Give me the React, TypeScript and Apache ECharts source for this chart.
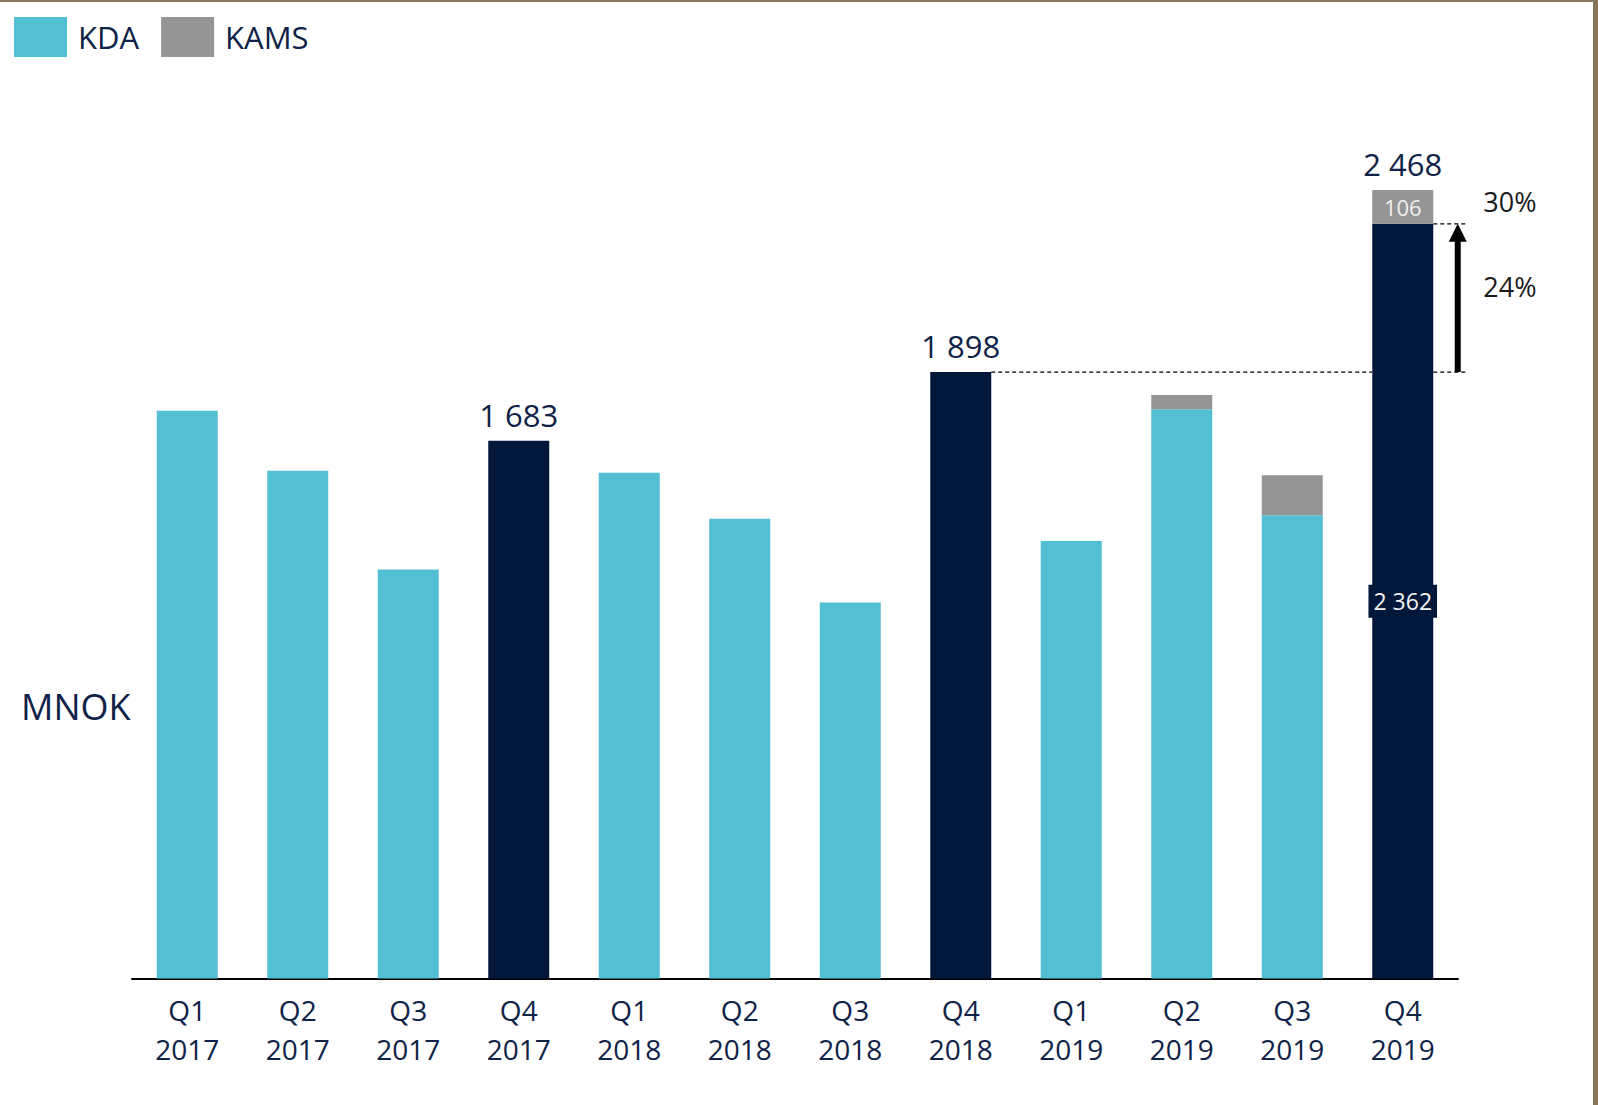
import React, { useEffect, useRef } from "react";
import * as echarts from "echarts";

const quarters = ["Q1", "Q2", "Q3", "Q4", "Q1", "Q2", "Q3", "Q4", "Q1", "Q2", "Q3", "Q4"];
const years = ["2017", "2017", "2017", "2017", "2018", "2018", "2018", "2018", "2019", "2019", "2019", "2019"];
const kdaValues = [1777, 1589, 1280, 1683, 1583, 1439, 1177, 1898, 1369, 1782, 1450, 2362];
const kamsValues: (number | null)[] = [null, null, null, null, null, null, null, null, null, 44, 125, 106];
const highlightIdx = [3, 7, 11];
const legendNames = ["KDA", "KAMS"];
const unitLabel = "MNOK";

const NAVY = "#0F2248";
const TEAL = "#52BFD2";
const DARK = "#02173A";
const GRAY = "#959595";
const FONT = "'Open Sans', 'Noto Sans', sans-serif";
const BAR_W = 61;

const fmt = (v: number) => {
  const s = Math.round(v).toString();
  return s.replace(/\B(?=(\d{3})+(?!\d))/g, " ");
};

export default function App() {
  const ref = useRef<HTMLDivElement>(null);
  useEffect(() => {
    if (!ref.current) return;
    const chart = echarts.init(ref.current, null, { renderer: "svg" });
    const categories = quarters.map((q, i) => `${q} ${years[i]}`);
    const totals = kdaValues.map((v, i) => v + (kamsValues[i] ?? 0));
    const last = kdaValues.length - 1;

    const kdaData = kdaValues.map((v, i) => {
      const hl = highlightIdx.includes(i);
      const item: any = { value: v, itemStyle: { color: hl ? DARK : TEAL } };
      if (i === last && kamsValues[i]) {
        item.label = {
          show: true,
          position: "inside",
          formatter: () => fmt(v),
          backgroundColor: DARK,
          padding: [5, 5],
          color: "#f2f2f2",
          fontSize: 23,
          fontFamily: FONT,
        };
      }
      return item;
    });
    const kamsData = kamsValues.map((v, i) => {
      const item: any = { value: v };
      if (i === last && v) {
        item.label = {
          show: true,
          position: "inside",
          formatter: () => fmt(v),
          color: "#f0f0f0",
          fontSize: 22,
          fontFamily: FONT,
        };
      }
      return item;
    });
    const totalData = highlightIdx.map((i) => [i, totals[i]]);

    chart.setOption({
      animation: false,
      backgroundColor: "#ffffff",
      legend: {
        data: legendNames,
        left: 14,
        top: 17,
        padding: 0,
        icon: "rect",
        itemWidth: 53,
        itemHeight: 40,
        itemGap: 22,
        textStyle: { color: NAVY, fontSize: 31, fontFamily: FONT, padding: [0, 0, 0, 6] },
      },
      grid: { left: 132, top: 20, width: 1326, height: 958.5 },
      xAxis: {
        type: "category",
        data: categories,
        axisLine: { lineStyle: { color: "#000", width: 2 } },
        axisTick: { show: false },
        axisLabel: {
          formatter: (v: string) => v.replace(" ", "\n"),
          color: NAVY,
          fontSize: 28,
          lineHeight: 39,
          margin: 12,
          fontFamily: FONT,
        },
      },
      yAxis: {
        type: "value",
        min: 0,
        max: 3000,
        show: false,
        splitLine: { show: false },
      },
      series: [
        {
          name: "KDA",
          type: "bar",
          stack: "total",
          barWidth: BAR_W,
          itemStyle: { color: TEAL },
          data: kdaData,
        },
        {
          name: "KAMS",
          type: "bar",
          stack: "total",
          barWidth: BAR_W,
          itemStyle: { color: GRAY },
          data: kamsData,
        },
        {
          name: "Total",
          type: "scatter",
          symbol: "circle",
          symbolSize: 1,
          itemStyle: { color: "rgba(0,0,0,0)", opacity: 1 },
          label: {
            show: true,
            position: "top",
            distance: 10,
            formatter: (p: any) => fmt(p.value[1]),
            color: NAVY,
            fontSize: 31,
            fontFamily: FONT,
          },
          data: totalData,
          z: 5,
        },
      ],
    });

    const base = highlightIdx[1];
    const baseVal = totals[base];
    const lastKda = kdaValues[last];
    const lastTot = totals[last];
    const [xBase, yBase] = chart.convertToPixel({ gridIndex: 0 }, [base, baseVal]) as number[];
    const [xLast, yKda] = chart.convertToPixel({ gridIndex: 0 }, [last, lastKda]) as number[];
    const [, yTot] = chart.convertToPixel({ gridIndex: 0 }, [last, lastTot]) as number[];
    const baseR = xBase + BAR_W / 2;
    const lastL = xLast - BAR_W / 2;
    const lastR = xLast + BAR_W / 2;
    const ax = lastR + 24.5;
    const dash = { stroke: "#000", lineWidth: 1.3, lineDash: [4, 3] };
    const pctKda = Math.round((lastKda / baseVal - 1) * 100);
    const pctTot = Math.round((lastTot / baseVal - 1) * 100);

    chart.setOption({
      graphic: [
        { type: "line", shape: { x1: baseR, y1: yBase, x2: lastL, y2: yBase }, style: dash },
        { type: "line", shape: { x1: lastR, y1: yBase, x2: lastR + 34, y2: yBase }, style: dash },
        { type: "line", shape: { x1: lastR, y1: yKda, x2: lastR + 34, y2: yKda }, style: dash },
        {
          type: "line",
          shape: { x1: ax, y1: yBase, x2: ax, y2: yKda + 16 },
          style: { stroke: "#000", lineWidth: 6 },
        },
        {
          type: "polygon",
          shape: { points: [[ax - 9, yKda + 18], [ax + 9, yKda + 18], [ax, yKda]] },
          style: { fill: "#000" },
        },
        {
          type: "text",
          x: lastR + 50,
          y: yTot + 12,
          style: { text: `${pctTot}%`, fill: "#1a1a1a", fontSize: 27, fontFamily: FONT, verticalAlign: "middle" },
        },
        {
          type: "text",
          x: lastR + 50,
          y: (yBase + yKda) / 2 - 11,
          style: { text: `${pctKda}%`, fill: "#1a1a1a", fontSize: 27, fontFamily: FONT, verticalAlign: "middle" },
        },
        {
          type: "text",
          x: 21,
          y: 706,
          style: { text: unitLabel, fill: NAVY, fontSize: 36, fontFamily: FONT, verticalAlign: "middle" },
        },
        { type: "rect", shape: { x: 0, y: 0, width: 1598, height: 2 }, style: { fill: "#8a7658" } },
        { type: "rect", shape: { x: 1593, y: 0, width: 5, height: 1105 }, style: { fill: "#8a7658" } },
      ],
    });

    return () => chart.dispose();
  }, []);

  return (
    <div
      ref={ref}
      style={{ position: "fixed", left: 0, top: 0, width: 1598, height: 1105, background: "#fff" }}
    />
  );
}
